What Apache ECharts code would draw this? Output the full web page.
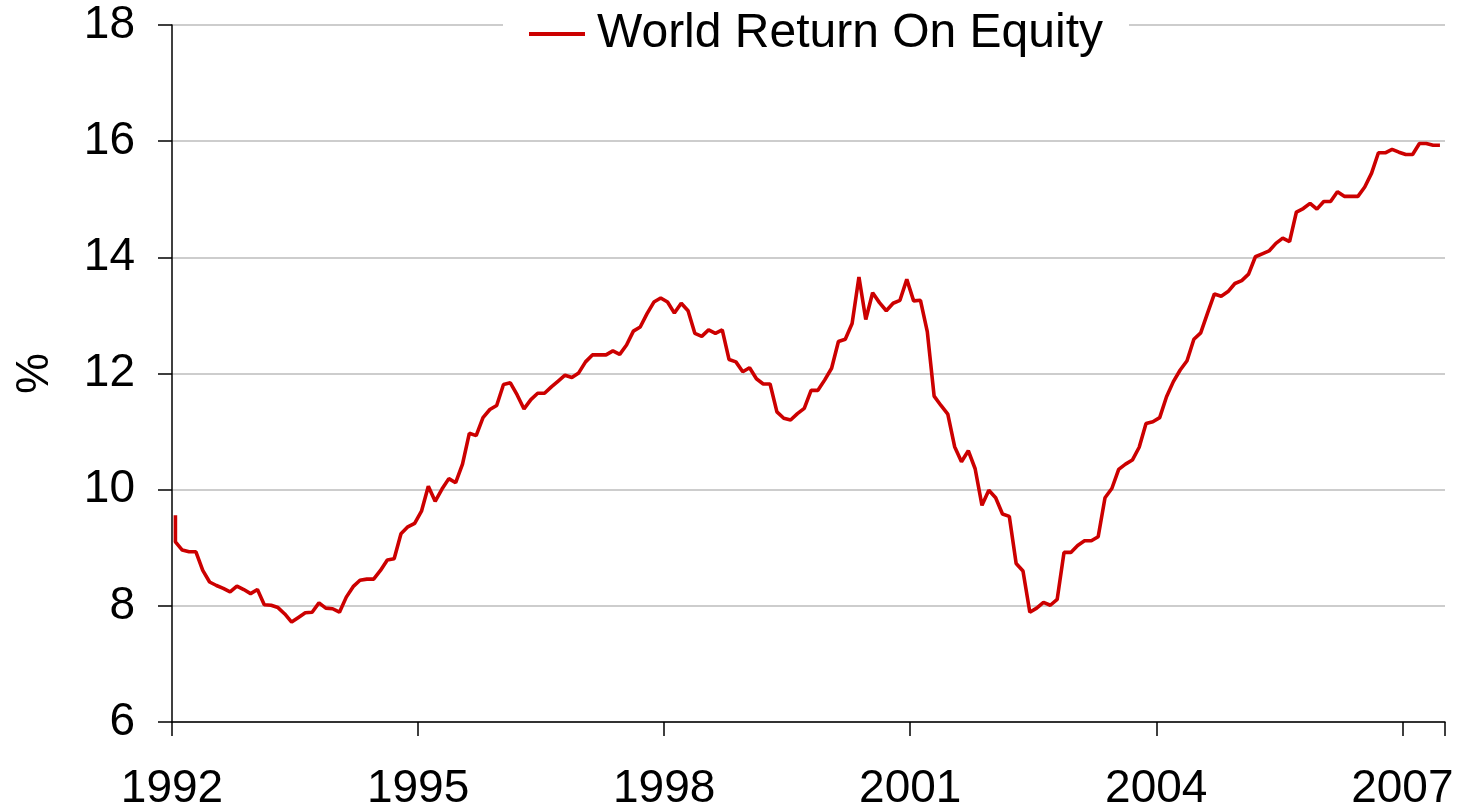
<!DOCTYPE html>
<html>
<head>
<meta charset="utf-8">
<script src="https://cdn.jsdelivr.net/npm/echarts@6/dist/echarts.min.js"></script>
<style>
  html, body { margin: 0; padding: 0; background: #ffffff; }
  #chart { width: 1463px; height: 808px; }
</style>
</head>
<body>
<div id="chart"></div>
<script>
// ---- data ----
const seriesName = 'World Return On Equity';
const startYear = 1992;            // first monthly observation: Jan 1992
const openingValue = 9.56;         // initial reading plotted at the first month
const roe = [
  9.10, 8.96, 8.93, 8.93, 8.61, 8.41, 8.35, 8.30, 8.24, 8.34, 8.28, 8.21,
  8.28, 8.02, 8.01, 7.97, 7.86, 7.72, 7.80, 7.88, 7.89, 8.05, 7.96, 7.95,
  7.89, 8.15, 8.33, 8.44, 8.46, 8.46, 8.61, 8.79, 8.81, 9.24, 9.36, 9.42,
  9.63, 10.06, 9.80, 10.01, 10.19, 10.12, 10.44, 10.97, 10.93, 11.24, 11.38, 11.45,
  11.81, 11.84, 11.63, 11.39, 11.55, 11.66, 11.66, 11.77, 11.87, 11.97, 11.93, 12.01,
  12.20, 12.32, 12.32, 12.32, 12.39, 12.33, 12.49, 12.73, 12.80, 13.03, 13.23, 13.30,
  13.23, 13.04, 13.21, 13.08, 12.69, 12.64, 12.75, 12.69, 12.75, 12.24, 12.20, 12.03,
  12.10, 11.91, 11.82, 11.82, 11.34, 11.23, 11.20, 11.31, 11.40, 11.71, 11.71, 11.89,
  12.09, 12.55, 12.59, 12.86, 13.66, 12.93, 13.39, 13.22, 13.08, 13.21, 13.26, 13.62,
  13.25, 13.26, 12.72, 11.61, 11.45, 11.30, 10.74, 10.48, 10.67, 10.36, 9.73, 9.99,
  9.86, 9.58, 9.54, 8.73, 8.60, 7.89, 7.96, 8.06, 8.01, 8.11, 8.92, 8.92,
  9.04, 9.12, 9.12, 9.19, 9.86, 10.02, 10.35, 10.44, 10.51, 10.73, 11.14, 11.17,
  11.24, 11.60, 11.86, 12.06, 12.22, 12.59, 12.70, 13.04, 13.37, 13.33, 13.41, 13.55,
  13.60, 13.71, 14.01, 14.06, 14.11, 14.24, 14.33, 14.27, 14.78, 14.84, 14.93, 14.83,
  14.96, 14.96, 15.13, 15.05, 15.05, 15.05, 15.21, 15.45, 15.80, 15.80, 15.86, 15.81,
  15.77, 15.77, 15.96, 15.96, 15.93, 15.93
];
const xTickYears = [1992, 1995, 1998, 2001, 2004, 2007];
const yTicks = [6, 8, 10, 12, 14, 16, 18];

// ---- build series points (x = mid-month in decimal years) ----
const monthX = i => startYear + (i + 0.5) / 12;
const points = [[monthX(0), openingValue]].concat(roe.map((v, i) => [monthX(i), v]));

const FONT = "'Liberation Sans', Arial, sans-serif";
const chart = echarts.init(document.getElementById('chart'), null, { renderer: 'canvas' });
chart.setOption({
  animation: false,
  backgroundColor: '#ffffff',
  textStyle: { fontFamily: FONT },
  grid: { left: 172, right: 18, top: 25, bottom: 86, containLabel: false, outerBoundsMode: 'none' },
  legend: {
    data: [seriesName],
    left: 503,
    top: 1,
    padding: [9, 26, 9, 26],
    backgroundColor: '#ffffff',
    itemWidth: 56,
    itemHeight: 4,
    itemGap: 0,
    icon: 'rect',
    textStyle: { fontFamily: FONT, fontSize: 48, color: '#000000', padding: [4, 0, 0, 7] },
    selectedMode: false
  },
  xAxis: {
    type: 'value',
    min: xTickYears[0],
    max: 2007.52,
    interval: 3,
    axisLine: { show: true, onZero: false, lineStyle: { color: '#000000', width: 1.5 } },
    axisTick: { show: true, inside: false, length: 14, lineStyle: { color: '#000000', width: 1.5 } },
    axisLabel: {
      fontFamily: FONT, fontSize: 46, color: '#000000', margin: 44,
      formatter: v => (xTickYears.indexOf(v) >= 0 ? String(v) : '')
    },
    splitLine: { show: false }
  },
  yAxis: {
    type: 'value',
    min: yTicks[0],
    max: yTicks[yTicks.length - 1],
    interval: 2,
    name: '%',
    nameLocation: 'middle',
    nameGap: 114,
    nameRotate: 90,
    nameTextStyle: { fontFamily: FONT, fontSize: 46, color: '#000000' },
    axisLine: { show: true, lineStyle: { color: '#000000', width: 1.5 } },
    axisTick: { show: true, inside: false, length: 14, lineStyle: { color: '#000000', width: 1.5 } },
    axisLabel: { fontFamily: FONT, fontSize: 46, color: '#000000', margin: 37, padding: [7, 0, 0, 0], formatter: v => String(v) },
    splitLine: { show: true, lineStyle: { color: '#bdbdbd', width: 1.5 } }
  },
  series: [{
    name: seriesName,
    type: 'line',
    data: points,
    showSymbol: false,
    symbol: 'none',
    color: '#cc0000',
    lineStyle: { color: '#cc0000', width: 3.6 },
    z: 3
  }]
});
</script>
</body>
</html>
